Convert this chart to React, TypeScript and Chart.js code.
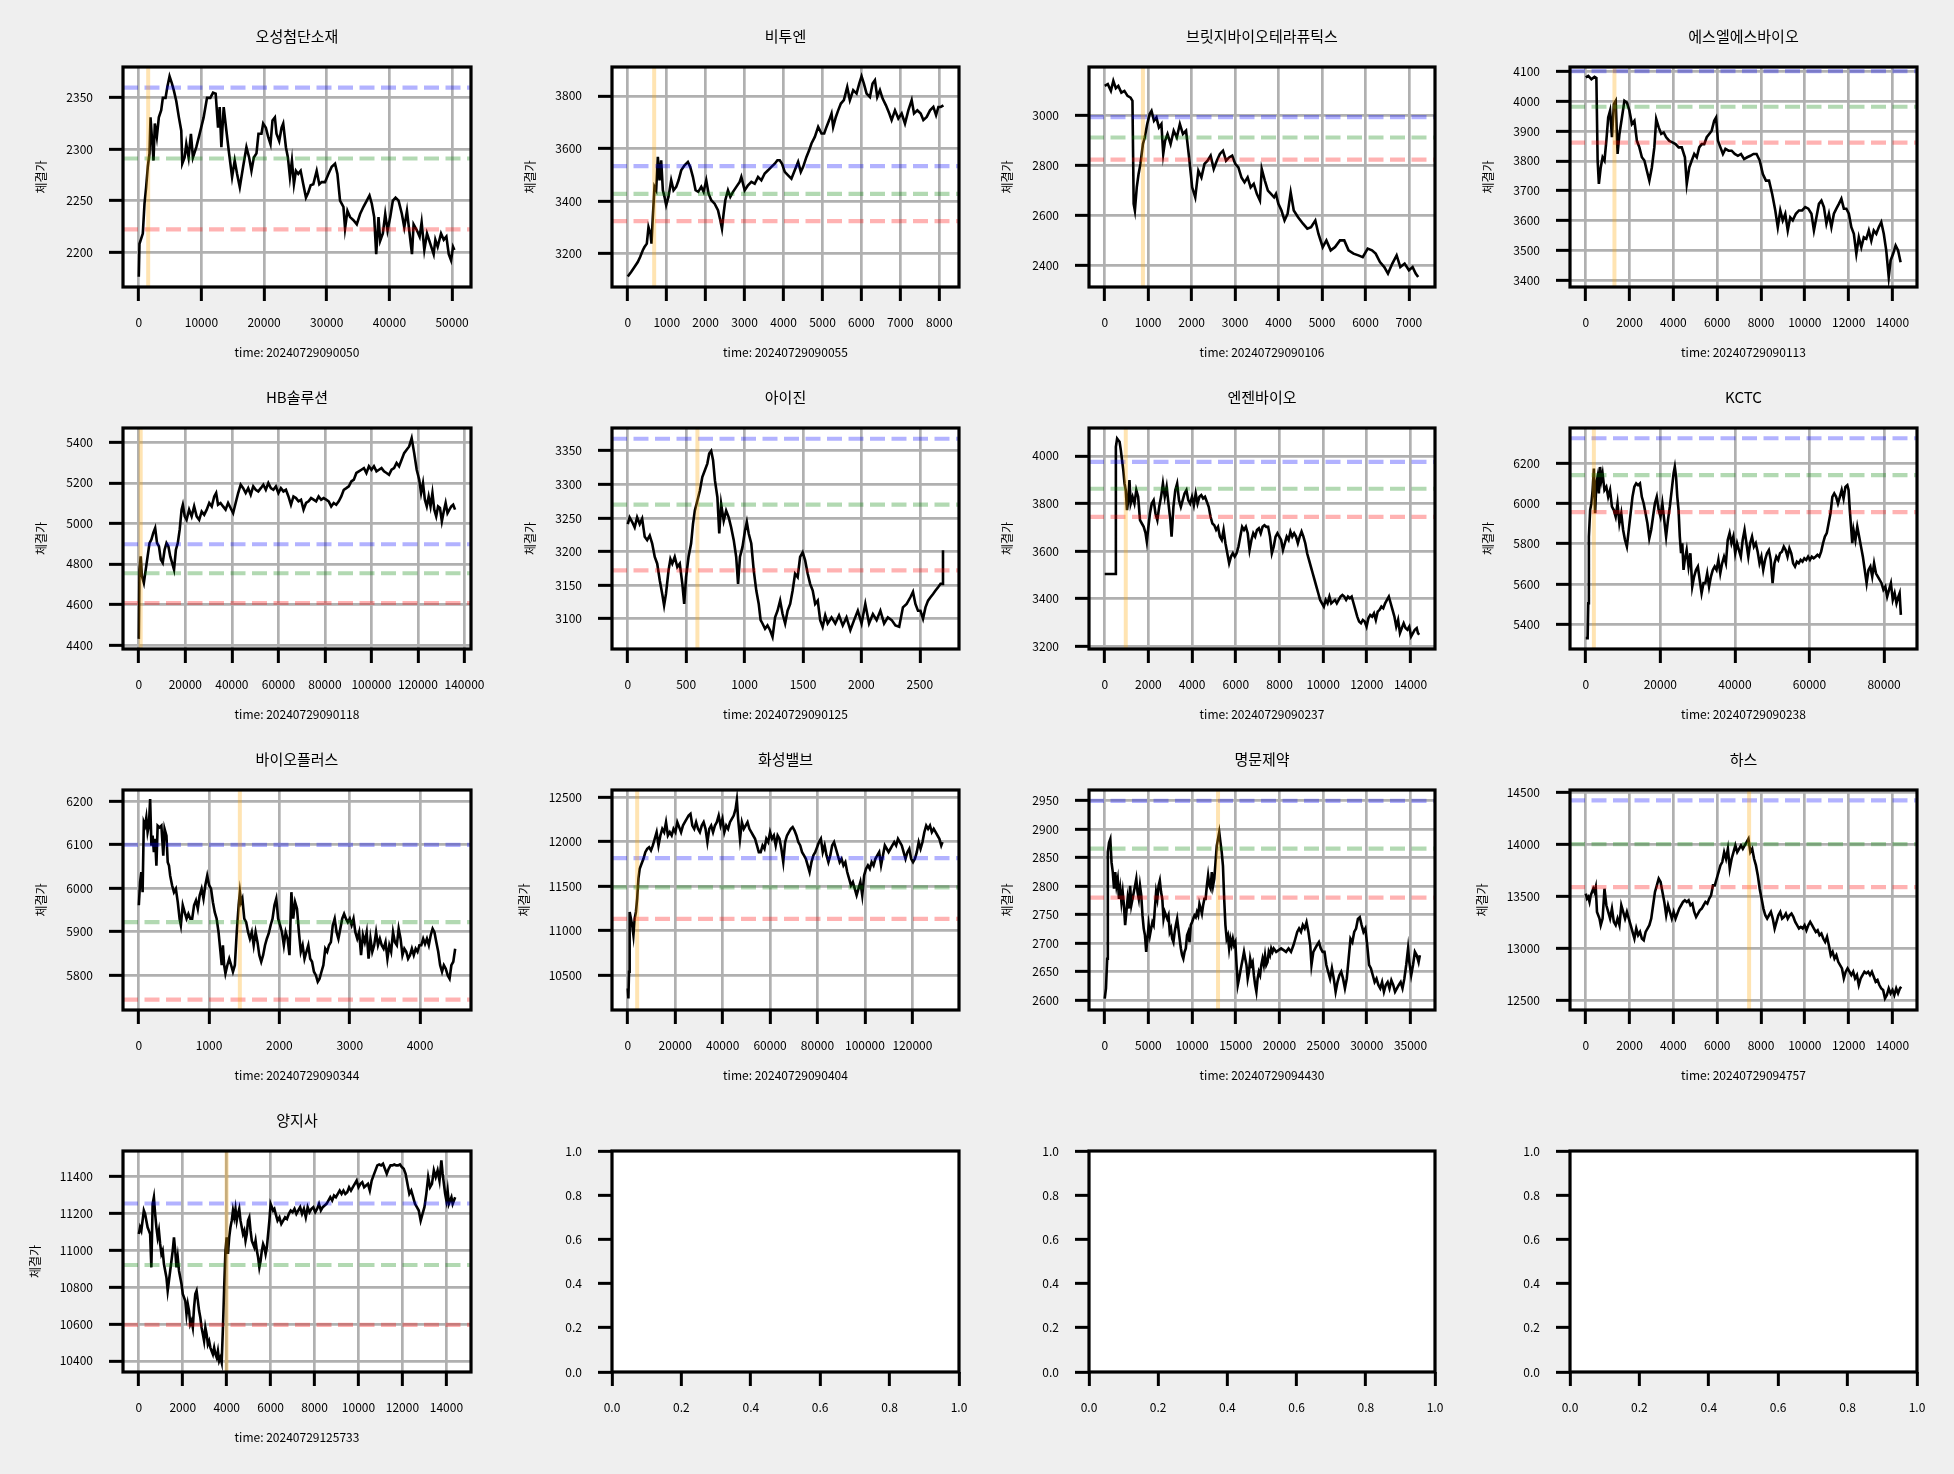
import { useEffect, useRef } from "react";
import Chart from "chart.js/auto";

type Pt = [number, number];

const FONT = "'Noto Sans CJK KR', 'Noto Sans', sans-serif";

const names = ["오성첨단소재", "비투엔", "브릿지바이오테라퓨틱스", "에스엘에스바이오", "HB솔루션", "아이진", "엔젠바이오", "KCTC", "바이오플러스", "화성밸브", "명문제약", "하스", "양지사"];
const stamps = ["20240729090050", "20240729090055", "20240729090106", "20240729090113", "20240729090118", "20240729090125", "20240729090237", "20240729090238", "20240729090344", "20240729090404", "20240729094430", "20240729094757", "20240729125733"];

// 체결가 series, [time index, price]
const osung: Pt[] = [[0,2176],[110,2208],[640,2218],[910,2247],[1170,2263],[1440,2283],[1710,2296],[1870,2331],[2130,2308],[2350,2289],[2560,2325],[2880,2312],[3200,2331],[3580,2338],[3840,2350],[4270,2350],[4540,2360],[4910,2371],[5280,2364],[5600,2357],[5980,2347],[6400,2331],[6780,2318],[6940,2286],[7310,2292],[7580,2305],[7950,2292],[8320,2315],[8640,2292],[9180,2302],[9710,2315],[10350,2331],[10890,2350],[11420,2350],[11850,2355],[12270,2354],[12650,2321],[12910,2341],[13180,2302],[13550,2341],[13980,2318],[14410,2296],[14890,2273],[15310,2289],[15690,2276],[16120,2263],[16650,2283],[17180,2302],[17610,2292],[17980,2279],[18360,2292],[18780,2296],[19100,2315],[19580,2315],[19850,2325],[20280,2321],[20650,2312],[21020,2305],[21340,2328],[21720,2331],[21980,2315],[22410,2308],[22790,2321],[23050,2325],[23480,2302],[23800,2292],[24120,2273],[24440,2289],[24760,2266],[25080,2279],[25450,2276],[25830,2279],[26250,2266],[26680,2253],[27050,2258],[27430,2265],[27850,2266],[28390,2279],[28810,2266],[29190,2268],[29720,2268],[30260,2276],[30790,2283],[31320,2286],[31700,2276],[32120,2250],[32660,2244],[32920,2223],[33300,2240],[33720,2234],[34260,2231],[34790,2227],[35320,2237],[35860,2244],[36390,2250],[36820,2255],[37190,2247],[37570,2234],[37890,2198],[38260,2234],[38530,2211],[38950,2218],[39330,2237],[39700,2221],[40130,2234],[40550,2250],[40980,2253],[41460,2250],[41990,2237],[42370,2224],[42800,2240],[43220,2218],[43600,2198],[43860,2227],[44400,2221],[44820,2215],[45140,2229],[45570,2202],[46000,2218],[46530,2208],[47060,2198],[47330,2212],[47700,2205],[48240,2218],[48670,2212],[49090,2215],[49470,2198],[49840,2192],[50160,2205],[50370,2202]];
const bituen: Pt[] = [[0,3113],[86,3130],[172,3149],[257,3168],[317,3187],[386,3213],[429,3225],[489,3238],[532,3301],[583,3276],[609,3238],[643,3339],[686,3454],[729,3441],[772,3568],[815,3479],[858,3555],[901,3441],[943,3416],[986,3384],[1046,3416],[1115,3479],[1175,3441],[1244,3454],[1304,3479],[1372,3517],[1458,3536],[1544,3549],[1604,3530],[1672,3492],[1741,3441],[1810,3435],[1887,3454],[1947,3435],[2015,3479],[2075,3428],[2144,3403],[2230,3390],[2316,3365],[2376,3327],[2419,3295],[2461,3352],[2504,3403],[2573,3441],[2633,3416],[2702,3435],[2787,3454],[2873,3473],[2916,3492],[3002,3441],[3087,3460],[3173,3473],[3259,3466],[3345,3492],[3430,3479],[3516,3505],[3602,3517],[3688,3530],[3774,3542],[3842,3555],[3902,3555],[3962,3542],[4031,3511],[4117,3498],[4202,3485],[4288,3517],[4374,3549],[4443,3511],[4503,3530],[4588,3568],[4657,3593],[4717,3619],[4803,3644],[4889,3682],[4974,3657],[5043,3657],[5103,3682],[5172,3708],[5232,3733],[5274,3682],[5343,3720],[5403,3745],[5472,3771],[5549,3784],[5635,3834],[5703,3784],[5789,3822],[5875,3809],[5943,3847],[6003,3875],[6063,3847],[6132,3809],[6218,3796],[6286,3847],[6346,3860],[6406,3796],[6475,3822],[6544,3790],[6629,3764],[6715,3733],[6775,3708],[6861,3745],[6947,3714],[7033,3733],[7118,3695],[7204,3745],[7290,3784],[7350,3733],[7436,3745],[7521,3733],[7590,3708],[7676,3720],[7762,3745],[7847,3758],[7916,3727],[7976,3758],[8036,3758],[8105,3764]];
const bridge: Pt[] = [[0,3120],[71,3127],[142,3100],[198,3140],[255,3111],[312,3120],[383,3093],[453,3100],[524,3080],[595,3073],[638,3060],[666,2647],[694,2620],[737,2713],[779,2767],[822,2807],[879,2887],[921,2913],[978,2967],[1034,3007],[1077,3020],[1134,2980],[1190,2993],[1247,2953],[1304,2967],[1346,2847],[1389,2900],[1445,2927],[1516,2887],[1587,2940],[1658,2913],[1729,2967],[1800,2927],[1871,2940],[1941,2833],[2012,2713],[2083,2673],[2154,2780],[2225,2753],[2296,2807],[2366,2820],[2437,2840],[2508,2787],[2579,2820],[2650,2847],[2721,2860],[2792,2820],[2862,2833],[2933,2840],[3004,2807],[3075,2793],[3146,2753],[3217,2733],[3288,2753],[3358,2713],[3429,2727],[3500,2687],[3571,2660],[3613,2787],[3684,2740],[3755,2700],[3826,2687],[3897,2673],[3940,2687],[3996,2647],[4067,2620],[4138,2580],[4209,2607],[4279,2693],[4350,2620],[4449,2593],[4563,2567],[4662,2547],[4747,2553],[4846,2580],[4917,2527],[5016,2473],[5101,2500],[5200,2460],[5300,2473],[5413,2500],[5512,2500],[5611,2460],[5725,2447],[5838,2440],[5937,2433],[6051,2467],[6150,2460],[6235,2447],[6334,2413],[6433,2393],[6518,2367],[6618,2407],[6717,2440],[6802,2393],[6901,2407],[7000,2380],[7085,2393],[7156,2367],[7213,2353]];
const slsBio: Pt[] = [[0,4079],[114,4084],[256,4073],[398,4081],[484,4077],[541,3801],[598,3723],[683,3778],[768,3812],[854,3801],[939,3867],[1024,3945],[1110,3968],[1195,3879],[1281,3990],[1366,4001],[1451,3823],[1537,3890],[1651,3945],[1764,4001],[1878,3995],[1992,3968],[2106,3923],[2220,3934],[2334,3867],[2447,3845],[2561,3812],[2675,3801],[2789,3767],[2902,3734],[3016,3778],[3130,3845],[3216,3940],[3329,3912],[3443,3890],[3557,3895],[3671,3879],[3813,3867],[3956,3862],[4098,3856],[4240,3845],[4382,3845],[4525,3812],[4610,3723],[4724,3778],[4838,3801],[4952,3823],[5066,3812],[5179,3845],[5293,3856],[5407,3856],[5521,3879],[5635,3890],[5748,3901],[5862,3934],[5948,3945],[6033,3867],[6147,3845],[6261,3823],[6375,3840],[6517,3834],[6659,3834],[6801,3823],[6944,3817],[7086,3823],[7228,3806],[7370,3812],[7513,3817],[7655,3823],[7797,3823],[7940,3801],[8082,3756],[8224,3734],[8366,3734],[8509,3689],[8651,3634],[8765,3578],[8879,3634],[8992,3601],[9106,3623],[9220,3567],[9334,3611],[9448,3601],[9590,3623],[9732,3634],[9875,3634],[10017,3645],[10159,3640],[10301,3623],[10415,3567],[10529,3611],[10643,3656],[10757,3667],[10871,3645],[10985,3590],[11098,3623],[11212,3578],[11326,3623],[11440,3640],[11554,3656],[11668,3673],[11781,3640],[11895,3640],[12009,3623],[12123,3578],[12237,3556],[12351,3489],[12464,3544],[12578,3511],[12692,3544],[12806,3539],[12920,3567],[13034,3533],[13147,3567],[13261,3556],[13375,3578],[13489,3595],[13603,3556],[13717,3500],[13830,3411],[13916,3467],[14030,3489],[14144,3517],[14257,3500],[14371,3461]];
const hbSol: Pt[] = [[0,4430],[270,4772],[811,4837],[1351,4739],[2162,4706],[2973,4772],[3784,4837],[4595,4903],[5405,4920],[6216,4953],[7027,4977],[7838,4903],[8649,4887],[9459,4821],[10270,4805],[11081,4870],[11892,4903],[12703,4887],[13514,4837],[14324,4805],[15135,4772],[15946,4870],[16757,4903],[17568,4969],[18378,5068],[18919,5092],[19730,5035],[20541,5018],[21622,5068],[22703,5035],[23784,5084],[24865,5035],[25946,5018],[27027,5059],[28108,5043],[29189,5068],[30270,5101],[31351,5084],[32432,5133],[33243,5150],[34054,5092],[35135,5101],[36216,5084],[37297,5068],[38378,5101],[39459,5076],[40541,5051],[41622,5101],[42703,5150],[43784,5191],[44865,5174],[45946,5150],[47027,5174],[48108,5142],[49189,5183],[50270,5166],[51351,5158],[52432,5174],[53514,5191],[54595,5166],[55676,5199],[56757,5174],[57838,5166],[58919,5183],[60000,5150],[61081,5174],[62162,5158],[63243,5166],[64324,5133],[65405,5092],[66486,5133],[67568,5125],[68649,5109],[69730,5117],[70811,5068],[71892,5101],[72973,5109],[74054,5125],[75135,5117],[76216,5109],[77297,5133],[78378,5117],[79459,5125],[80541,5117],[81622,5109],[82703,5084],[83784,5101],[84865,5092],[85946,5109],[87027,5133],[88108,5166],[89189,5174],[90270,5183],[91351,5207],[92432,5216],[93514,5249],[94595,5257],[95676,5265],[96757,5273],[97838,5249],[98919,5282],[100000,5265],[101081,5282],[102162,5257],[103243,5265],[104324,5273],[105405,5257],[106486,5249],[107568,5240],[108649,5265],[109730,5273],[110811,5298],[111892,5282],[112973,5314],[114054,5347],[115135,5364],[116216,5380],[117297,5421],[118378,5347],[119459,5265],[120541,5216],[121351,5150],[122162,5199],[122973,5117],[123784,5084],[124595,5133],[125405,5084],[126216,5150],[127027,5068],[127838,5035],[128649,5084],[129459,5076],[130270,5010],[131081,5059],[131892,5101],[132703,5051],[133514,5068],[134324,5084],[135135,5092],[135946,5068]];
const aijin: Pt[] = [[0,3241],[16,3251],[38,3244],[59,3236],[80,3251],[102,3241],[123,3249],[145,3222],[166,3217],[188,3224],[209,3212],[231,3192],[252,3182],[274,3157],[295,3137],[311,3120],[327,3137],[349,3172],[365,3189],[381,3182],[402,3192],[424,3177],[445,3182],[467,3152],[483,3122],[499,3162],[520,3192],[542,3212],[558,3241],[574,3261],[596,3276],[617,3291],[638,3311],[660,3321],[681,3331],[697,3346],[714,3350],[730,3336],[746,3306],[767,3281],[783,3227],[799,3271],[821,3246],[842,3261],[864,3251],[885,3236],[907,3217],[928,3192],[944,3152],[960,3192],[982,3207],[1003,3231],[1019,3244],[1035,3227],[1057,3212],[1078,3172],[1100,3142],[1121,3122],[1137,3098],[1153,3093],[1175,3085],[1196,3090],[1218,3083],[1239,3073],[1261,3102],[1282,3112],[1304,3127],[1325,3107],[1347,3093],[1368,3112],[1390,3122],[1411,3142],[1432,3167],[1454,3162],[1475,3192],[1497,3199],[1518,3187],[1540,3167],[1561,3152],[1583,3142],[1604,3122],[1626,3127],[1647,3098],[1668,3088],[1690,3105],[1711,3093],[1744,3102],[1776,3093],[1808,3105],[1840,3090],[1872,3102],[1905,3083],[1937,3098],[1969,3112],[2001,3093],[2033,3122],[2065,3093],[2098,3107],[2130,3098],[2162,3112],[2194,3093],[2226,3102],[2259,3098],[2291,3090],[2323,3088],[2355,3117],[2387,3122],[2419,3132],[2441,3140],[2462,3122],[2484,3112],[2505,3112],[2527,3100],[2548,3117],[2570,3127],[2591,3132],[2613,3137],[2634,3142],[2656,3147],[2677,3152],[2693,3152],[2698,3202]];
const engen: Pt[] = [[0,3504],[482,3504],[510,4038],[567,4073],[623,4066],[680,4059],[737,4024],[793,3982],[850,3940],[907,3884],[963,3856],[1020,3772],[1077,3814],[1133,3898],[1190,3800],[1275,3828],[1360,3800],[1445,3856],[1530,3828],[1615,3730],[1700,3716],[1785,3702],[1870,3675],[1927,3640],[1984,3689],[2069,3758],[2154,3800],[2239,3814],[2324,3758],[2409,3730],[2494,3786],[2579,3828],[2664,3884],[2749,3828],[2834,3870],[2919,3800],[3004,3730],[3060,3661],[3145,3786],[3230,3856],[3315,3884],[3400,3814],[3485,3786],[3570,3814],[3655,3842],[3740,3856],[3825,3814],[3910,3800],[3995,3828],[4080,3793],[4165,3842],[4250,3800],[4335,3828],[4420,3835],[4505,3821],[4590,3828],[4675,3807],[4760,3786],[4845,3744],[4930,3716],[5016,3709],[5101,3689],[5186,3702],[5271,3661],[5356,3647],[5441,3689],[5526,3633],[5611,3591],[5696,3549],[5781,3577],[5866,3591],[5951,3577],[6036,3591],[6121,3619],[6206,3661],[6291,3702],[6376,3689],[6461,3702],[6546,3675],[6631,3605],[6716,3647],[6801,3675],[6886,3661],[6971,3689],[7056,3696],[7141,3675],[7226,3702],[7311,3709],[7396,3702],[7481,3702],[7566,3661],[7651,3591],[7736,3619],[7821,3661],[7906,3675],[7991,3661],[8076,3647],[8161,3605],[8246,3633],[8331,3661],[8416,3647],[8501,3682],[8586,3661],[8671,3675],[8756,3661],[8841,3633],[8926,3661],[9011,3682],[9096,3661],[9181,3633],[9266,3591],[9351,3563],[9436,3535],[9521,3507],[9606,3479],[9691,3451],[9776,3423],[9861,3395],[9946,3381],[10031,3367],[10116,3395],[10201,3381],[10286,3409],[10371,3381],[10456,3388],[10541,3395],[10626,3381],[10711,3395],[10796,3409],[10881,3416],[10966,3409],[11051,3395],[11136,3409],[11221,3402],[11306,3409],[11391,3381],[11476,3353],[11561,3325],[11646,3304],[11731,3297],[11816,3311],[11901,3304],[11986,3283],[12071,3318],[12156,3332],[12241,3325],[12326,3339],[12411,3311],[12496,3346],[12581,3353],[12666,3367],[12751,3360],[12836,3381],[12921,3395],[13006,3409],[13091,3381],[13176,3353],[13261,3325],[13346,3283],[13431,3311],[13516,3256],[13601,3277],[13686,3297],[13771,3277],[13856,3270],[13941,3283],[14026,3242],[14111,3256],[14196,3270],[14282,3277],[14338,3256],[14395,3249]];
const kctc: Pt[] = [[0,5330],[501,5330],[668,5504],[835,5836],[1169,5968],[1503,6001],[1837,6068],[2171,6175],[2505,5952],[2839,6101],[3173,6134],[3507,6051],[3841,6183],[4175,6117],[4509,6150],[5010,6068],[5511,6084],[6012,6034],[6513,6068],[7014,5985],[7515,5968],[8016,5935],[8517,6001],[9018,5902],[9519,5952],[10020,5869],[10521,5819],[11022,5786],[11523,5869],[12024,5952],[12525,6034],[13026,6084],[13527,6101],[14028,6092],[14529,6101],[15030,6034],[15531,6001],[16032,5952],[16533,5902],[17034,5827],[17535,5869],[18036,5935],[18537,6001],[19038,6034],[19539,5968],[20040,5935],[20541,6001],[21042,5918],[21543,5836],[22044,5918],[22545,5985],[23046,6068],[23547,6150],[23881,6183],[24215,6134],[24549,6034],[24883,5968],[25217,5836],[25551,5753],[25885,5803],[26219,5670],[26553,5720],[27054,5769],[27555,5687],[28056,5753],[28557,5587],[29058,5637],[29559,5670],[30060,5687],[30561,5620],[31062,5554],[31563,5604],[32064,5604],[32565,5653],[33066,5587],[33567,5637],[34068,5670],[34569,5687],[35070,5670],[35571,5720],[36072,5653],[36573,5703],[37074,5736],[37575,5703],[38076,5819],[38577,5853],[39078,5803],[39579,5836],[40080,5753],[40581,5803],[41082,5769],[41583,5736],[42084,5819],[42585,5869],[43086,5803],[43587,5736],[44088,5803],[44589,5836],[45090,5786],[45591,5803],[46092,5761],[46593,5703],[47094,5736],[47595,5670],[48096,5720],[48597,5753],[49098,5769],[49599,5720],[50100,5604],[50601,5703],[51102,5736],[51603,5720],[52104,5753],[52605,5761],[53106,5786],[53607,5769],[54108,5736],[54609,5778],[55110,5753],[55611,5703],[56112,5687],[56613,5711],[57114,5703],[57615,5720],[58116,5711],[58617,5728],[59118,5720],[59619,5736],[60120,5720],[60621,5736],[61122,5728],[61623,5736],[62124,5745],[62625,5736],[63126,5761],[63627,5803],[64128,5836],[64629,5853],[65130,5902],[65631,5952],[66132,6034],[66633,6051],[67134,6034],[67635,6001],[68136,6034],[68637,6068],[69138,6026],[69639,6084],[70140,6092],[70474,6068],[70808,5968],[71142,5885],[71476,5803],[71810,5869],[72311,5819],[72812,5885],[73313,5836],[73814,5786],[74315,5736],[74816,5670],[75317,5604],[75818,5670],[76319,5687],[76820,5637],[77321,5703],[77822,5653],[78323,5637],[78824,5620],[79325,5604],[79826,5571],[80327,5587],[80828,5537],[81329,5571],[81830,5604],[82331,5521],[82832,5554],[83333,5504],[83834,5537],[84168,5554],[84502,5446]];
const bioPlus: Pt[] = [[0,5961],[18,6014],[36,6037],[54,5991],[71,6152],[89,6144],[107,6163],[125,6129],[143,6144],[161,6205],[179,6098],[196,6121],[214,6083],[232,6114],[250,6052],[268,6144],[295,6140],[321,6144],[348,6075],[366,6137],[393,6121],[411,6060],[429,6052],[446,6029],[473,6007],[500,5991],[527,5999],[554,5968],[580,5930],[598,5915],[625,5961],[652,5945],[679,5930],[705,5941],[732,5930],[759,5930],[786,5961],[813,5972],[839,5953],[866,5984],[893,5999],[920,5976],[946,6007],[973,6029],[1000,6007],[1027,5999],[1054,5968],[1080,5945],[1107,5930],[1134,5899],[1161,5854],[1179,5823],[1196,5869],[1214,5823],[1232,5804],[1259,5823],[1286,5838],[1313,5823],[1339,5808],[1366,5823],[1393,5899],[1420,5961],[1438,5991],[1455,5968],[1473,5976],[1500,5930],[1527,5922],[1554,5899],[1580,5884],[1607,5899],[1634,5869],[1661,5899],[1688,5876],[1714,5846],[1741,5831],[1768,5846],[1795,5869],[1821,5884],[1848,5896],[1875,5915],[1902,5930],[1929,5961],[1955,5976],[1982,5930],[2009,5915],[2036,5899],[2063,5869],[2089,5899],[2116,5884],[2143,5846],[2170,5991],[2196,5930],[2223,5968],[2250,5953],[2277,5899],[2304,5854],[2330,5869],[2357,5838],[2384,5854],[2411,5869],[2438,5838],[2464,5831],[2491,5808],[2518,5800],[2545,5785],[2571,5792],[2598,5808],[2625,5823],[2652,5861],[2679,5854],[2705,5869],[2732,5876],[2759,5915],[2786,5930],[2813,5899],[2839,5884],[2866,5907],[2893,5930],[2920,5941],[2946,5930],[2973,5922],[3000,5930],[3027,5915],[3054,5930],[3080,5899],[3107,5884],[3134,5899],[3161,5846],[3188,5892],[3214,5876],[3241,5899],[3268,5838],[3295,5884],[3321,5854],[3348,5869],[3375,5899],[3402,5869],[3429,5884],[3455,5869],[3482,5861],[3509,5876],[3536,5838],[3563,5869],[3589,5854],[3616,5899],[3643,5876],[3670,5869],[3696,5907],[3723,5884],[3750,5846],[3777,5861],[3804,5854],[3830,5838],[3857,5846],[3884,5861],[3911,5846],[3938,5861],[3964,5854],[3991,5869],[4018,5869],[4045,5884],[4071,5872],[4098,5884],[4125,5869],[4152,5892],[4179,5907],[4205,5899],[4232,5876],[4259,5854],[4286,5823],[4313,5808],[4339,5823],[4366,5815],[4393,5800],[4420,5792],[4446,5823],[4473,5831],[4500,5861]];
const hwasung: Pt[] = [[0,10350],[264,10238],[529,10537],[793,11210],[1322,11136],[1850,11061],[2379,10949],[2908,11136],[3436,11210],[3965,11360],[4494,11584],[5022,11696],[5816,11752],[6609,11808],[7402,11883],[8195,11921],[8988,11939],[9781,11902],[10574,11958],[11367,12033],[12160,12107],[12953,11958],[13746,12070],[14539,12145],[15332,12107],[16125,12220],[16918,12070],[17711,12107],[18504,12070],[19297,12145],[20090,12107],[20883,12220],[21676,12164],[22469,12107],[23262,12182],[24055,12220],[24848,12257],[25641,12294],[26434,12313],[27227,12182],[28020,12145],[28813,12220],[29606,12145],[30399,12107],[31192,12182],[31985,12220],[32778,12145],[33571,11996],[34364,12145],[35157,12182],[35950,12107],[36743,12182],[37536,12220],[38329,12294],[39122,12182],[39915,12257],[40708,12107],[41501,12182],[42294,12145],[43087,12220],[43880,12257],[44673,12294],[45466,12369],[45995,12470],[46524,12257],[47317,12033],[48110,12220],[48903,12145],[49696,12182],[50489,12220],[51282,12145],[52075,12107],[52868,12070],[53661,12033],[54454,11958],[55247,11883],[56040,11883],[56833,11958],[57626,11921],[58419,12033],[59212,11996],[60005,12107],[60798,12033],[61591,12070],[62384,11958],[63177,12070],[63970,12033],[64763,11921],[65556,11771],[66349,11996],[67142,12070],[67935,12107],[68728,12145],[69521,12164],[70314,12126],[71107,12070],[71900,11996],[72693,11958],[73486,11883],[74279,11846],[75072,11808],[75865,11734],[76658,11659],[77451,11771],[78244,11846],[79037,11883],[79830,11939],[80623,11996],[81416,12033],[82209,11883],[83002,11958],[83795,11846],[84588,11771],[85381,11846],[86174,11958],[86967,11996],[87760,11921],[88553,11846],[89346,11771],[90139,11808],[90932,11734],[91725,11771],[92518,11659],[93311,11584],[94104,11509],[94897,11546],[95690,11472],[96483,11397],[97276,11472],[98069,11546],[98862,11397],[99655,11621],[100448,11696],[101241,11734],[102034,11696],[102827,11771],[103620,11734],[104413,11808],[105206,11846],[105999,11883],[106792,11734],[107585,11846],[108378,11958],[109171,11921],[109964,11883],[110757,11921],[111550,11958],[112343,11996],[113136,11958],[113929,12033],[114722,11996],[115515,11958],[116308,11883],[117101,11808],[117894,11883],[118687,11921],[119480,11808],[120273,11771],[121066,11808],[121859,11883],[122652,11996],[123445,11921],[124238,11996],[125031,12107],[125824,12182],[126617,12145],[127410,12182],[128203,12107],[128996,12145],[129789,12107],[130582,12070],[131375,12033],[132168,11958],[132697,11996]];
const myungmoon: Pt[] = [[0,2603],[142,2621],[283,2673],[354,2860],[496,2877],[638,2883],[779,2842],[921,2825],[1063,2796],[1204,2825],[1346,2801],[1488,2813],[1630,2778],[1771,2796],[1913,2772],[2055,2790],[2196,2767],[2338,2732],[2480,2755],[2621,2778],[2763,2761],[2905,2801],[3046,2767],[3188,2778],[3330,2790],[3472,2801],[3613,2813],[3755,2790],[3897,2778],[4038,2801],[4180,2784],[4322,2749],[4463,2726],[4605,2714],[4747,2685],[4888,2708],[5030,2732],[5172,2714],[5313,2726],[5455,2737],[5597,2732],[5738,2761],[5880,2790],[6022,2778],[6163,2801],[6305,2810],[6447,2790],[6588,2778],[6730,2743],[6872,2755],[7013,2749],[7155,2743],[7297,2749],[7439,2720],[7580,2726],[7722,2708],[7864,2702],[8005,2720],[8147,2732],[8289,2743],[8430,2726],[8572,2708],[8714,2691],[8855,2679],[8997,2673],[9139,2685],[9280,2691],[9422,2714],[9564,2720],[9705,2702],[9847,2732],[9989,2737],[10131,2743],[10272,2749],[10414,2746],[10556,2755],[10697,2749],[10839,2769],[10981,2761],[11122,2752],[11264,2767],[11406,2778],[11547,2778],[11689,2801],[11831,2819],[11972,2801],[12114,2796],[12256,2825],[12397,2801],[12539,2813],[12681,2842],[12822,2871],[12964,2883],[13106,2895],[13247,2877],[13389,2860],[13531,2836],[13672,2778],[13814,2732],[13956,2708],[14097,2714],[14239,2691],[14381,2708],[14522,2697],[14664,2708],[14806,2697],[14947,2702],[15089,2662],[15231,2627],[15372,2638],[15514,2650],[15656,2662],[15797,2673],[15939,2685],[16081,2673],[16222,2662],[16364,2638],[16506,2650],[16647,2673],[16789,2662],[16931,2667],[17072,2644],[17214,2627],[17356,2615],[17497,2638],[17639,2650],[17781,2644],[17922,2662],[18064,2673],[18206,2662],[18347,2679],[18489,2662],[18631,2667],[18772,2685],[18914,2679],[19056,2691],[19197,2685],[19339,2691],[19622,2685],[19905,2688],[20189,2691],[20472,2688],[20756,2685],[21039,2691],[21322,2685],[21606,2697],[21818,2708],[22031,2720],[22243,2726],[22460,2720],[22672,2732],[22885,2726],[23097,2737],[23310,2720],[23522,2697],[23664,2662],[23877,2685],[24089,2691],[24302,2697],[24514,2702],[24727,2691],[24940,2685],[25152,2685],[25365,2662],[25577,2650],[25790,2638],[26003,2656],[26215,2638],[26428,2615],[26640,2632],[26853,2644],[27065,2650],[27278,2638],[27491,2621],[27703,2638],[27916,2673],[28128,2708],[28341,2702],[28553,2720],[28766,2726],[28979,2743],[29191,2746],[29404,2732],[29616,2720],[29829,2726],[30042,2697],[30254,2662],[30467,2656],[30679,2644],[30892,2632],[31104,2638],[31317,2627],[31530,2621],[31742,2632],[31955,2615],[32167,2627],[32380,2632],[32592,2621],[32805,2635],[33018,2627],[33230,2615],[33443,2621],[33655,2627],[33868,2632],[34081,2621],[34293,2638],[34506,2662],[34718,2691],[34860,2667],[35073,2644],[35285,2662],[35498,2685],[35710,2679],[35923,2667],[36065,2679]];
const hass: Pt[] = [[0,13526],[57,13478],[114,13494],[171,13446],[228,13510],[285,13542],[341,13573],[398,13542],[455,13589],[512,13350],[569,13318],[626,13286],[683,13222],[768,13286],[854,13573],[939,13414],[1024,13350],[1110,13286],[1195,13382],[1281,13254],[1366,13222],[1451,13286],[1537,13222],[1622,13414],[1708,13350],[1793,13286],[1878,13350],[1964,13286],[2049,13222],[2134,13158],[2220,13094],[2305,13190],[2390,13126],[2476,13158],[2561,13094],[2646,13078],[2732,13158],[2817,13190],[2903,13222],[2988,13286],[3073,13414],[3159,13542],[3244,13605],[3329,13669],[3415,13637],[3500,13542],[3585,13446],[3671,13318],[3756,13414],[3841,13350],[3927,13286],[4012,13350],[4098,13286],[4183,13334],[4268,13382],[4354,13414],[4439,13446],[4524,13462],[4610,13446],[4695,13462],[4780,13414],[4866,13430],[4951,13350],[5036,13302],[5122,13334],[5207,13366],[5292,13382],[5378,13414],[5463,13446],[5549,13430],[5634,13478],[5719,13510],[5805,13605],[5890,13605],[5975,13669],[6061,13733],[6146,13797],[6231,13829],[6317,13925],[6402,13861],[6487,13957],[6573,13765],[6658,13861],[6744,13925],[6829,13989],[6914,13925],[7000,13957],[7085,13989],[7170,13957],[7256,13989],[7341,14021],[7426,14053],[7512,13925],[7597,13957],[7683,13861],[7768,13797],[7853,13701],[7939,13573],[8024,13478],[8109,13382],[8195,13318],[8280,13286],[8366,13318],[8451,13350],[8536,13286],[8622,13190],[8707,13254],[8792,13318],[8878,13350],[8963,13286],[9049,13302],[9134,13334],[9219,13286],[9305,13318],[9390,13334],[9475,13302],[9561,13254],[9646,13222],[9732,13190],[9817,13206],[9902,13190],[9988,13222],[10073,13174],[10158,13222],[10244,13254],[10329,13222],[10415,13190],[10500,13158],[10585,13174],[10671,13126],[10756,13142],[10841,13094],[10927,13062],[11012,13110],[11097,13030],[11183,12934],[11268,12966],[11354,12902],[11439,12934],[11524,12870],[11610,12839],[11695,12807],[11780,12711],[11866,12775],[11951,12807],[12037,12775],[12122,12743],[12207,12775],[12293,12711],[12378,12743],[12463,12647],[12549,12711],[12634,12743],[12719,12775],[12805,12759],[12890,12775],[12976,12743],[13061,12775],[13146,12727],[13232,12679],[13317,12695],[13402,12647],[13488,12615],[13573,12599],[13659,12519],[13744,12551],[13829,12615],[13915,12567],[14000,12599],[14085,12551],[14171,12615],[14256,12567],[14341,12615],[14398,12631]];
const yangji: Pt[] = [[0,11087],[57,11123],[114,11105],[171,11159],[229,11214],[286,11196],[343,11159],[400,11123],[457,11105],[514,11087],[571,10906],[629,11250],[686,11286],[743,11196],[800,11123],[857,11069],[914,11105],[971,11033],[1029,10979],[1086,10997],[1143,10924],[1200,10888],[1257,10852],[1314,10780],[1371,10834],[1429,10888],[1486,10942],[1543,10997],[1600,11069],[1657,10997],[1714,10906],[1771,10961],[1829,10888],[1886,10852],[1943,10816],[2000,10762],[2057,10744],[2114,10726],[2171,10653],[2229,10708],[2286,10671],[2343,10599],[2400,10617],[2457,10581],[2514,10689],[2571,10762],[2629,10780],[2686,10726],[2743,10671],[2800,10635],[2857,10581],[2914,10545],[2971,10508],[3029,10581],[3086,10545],[3143,10490],[3200,10508],[3257,10472],[3314,10454],[3371,10436],[3429,10472],[3486,10436],[3543,10418],[3600,10454],[3657,10400],[3714,10418],[3771,10391],[3829,10581],[3886,10798],[3943,10997],[4000,11069],[4057,10979],[4114,11069],[4171,11123],[4229,11159],[4286,11214],[4343,11177],[4400,11223],[4457,11159],[4514,11196],[4571,11223],[4629,11159],[4686,11123],[4743,11087],[4800,11105],[4857,11051],[4914,11087],[4971,11159],[5029,11177],[5086,11105],[5143,11051],[5200,11033],[5257,11015],[5314,11051],[5371,10997],[5429,10961],[5486,10906],[5543,10942],[5600,10997],[5657,11033],[5714,11015],[5771,10979],[5829,11015],[5886,11087],[5943,11159],[6000,11250],[6057,11232],[6114,11214],[6171,11223],[6229,11196],[6314,11159],[6400,11177],[6486,11141],[6571,11159],[6657,11177],[6743,11168],[6829,11196],[6914,11214],[7000,11205],[7086,11223],[7171,11196],[7257,11214],[7343,11232],[7429,11196],[7514,11223],[7600,11177],[7686,11232],[7771,11205],[7857,11223],[7943,11232],[8029,11205],[8114,11223],[8200,11250],[8286,11214],[8371,11232],[8457,11241],[8543,11250],[8629,11268],[8714,11286],[8800,11268],[8886,11295],[8971,11286],[9057,11304],[9143,11322],[9229,11304],[9314,11322],[9400,11304],[9486,11313],[9571,11340],[9657,11322],[9743,11340],[9829,11358],[9914,11376],[10000,11340],[10086,11358],[10171,11367],[10257,11340],[10343,11349],[10429,11358],[10514,11322],[10600,11376],[10686,11404],[10771,11431],[10857,11458],[10943,11463],[11029,11458],[11114,11467],[11200,11440],[11286,11413],[11371,11440],[11457,11458],[11543,11458],[11629,11463],[11714,11458],[11800,11458],[11886,11463],[11971,11449],[12057,11440],[12143,11413],[12229,11358],[12314,11304],[12400,11322],[12486,11286],[12571,11250],[12657,11232],[12743,11214],[12829,11159],[12914,11196],[13000,11232],[13086,11304],[13171,11395],[13257,11340],[13343,11358],[13429,11431],[13514,11395],[13600,11431],[13686,11376],[13771,11485],[13829,11413],[13886,11358],[13943,11304],[14000,11268],[14057,11322],[14114,11250],[14171,11268],[14229,11286],[14286,11250],[14343,11268],[14400,11286]];

const series = [osung, bituen, bridge, slsBio, hbSol, aijin, engen, kctc, bioPlus, hwasung, myungmoon, hass, yangji];

// horizontal reference levels: blue, green, red
const levels = [[2360, 2291, 2222], [3533, 3427, 3324], [2995, 2913, 2824], [4100, 3981, 3861], [4897, 4754, 4607], [3368, 3270, 3172], [3975, 3862, 3744], [6326, 6142, 5958], [6100, 5922, 5744], [11816, 11487, 11132], [2950, 2866, 2780], [14423, 14002, 13589], [11252, 10919, 10595]];
// orange vertical marker (time index)
const marks = [1500, 678, 879, 1309, 800, 596, 963, 2170, 1437, 3965, 12968, 7456, 3995];

const xTicks = [
  [0, 10000, 20000, 30000, 40000, 50000],
  [0, 1000, 2000, 3000, 4000, 5000, 6000, 7000, 8000],
  [0, 1000, 2000, 3000, 4000, 5000, 6000, 7000],
  [0, 2000, 4000, 6000, 8000, 10000, 12000, 14000],
  [0, 20000, 40000, 60000, 80000, 100000, 120000, 140000],
  [0, 500, 1000, 1500, 2000, 2500],
  [0, 2000, 4000, 6000, 8000, 10000, 12000, 14000],
  [0, 20000, 40000, 60000, 80000],
  [0, 1000, 2000, 3000, 4000],
  [0, 20000, 40000, 60000, 80000, 100000, 120000],
  [0, 5000, 10000, 15000, 20000, 25000, 30000, 35000],
  [0, 2000, 4000, 6000, 8000, 10000, 12000, 14000],
  [0, 2000, 4000, 6000, 8000, 10000, 12000, 14000],
];
const yTicks = [
  [2200, 2250, 2300, 2350],
  [3200, 3400, 3600, 3800],
  [2400, 2600, 2800, 3000],
  [3400, 3500, 3600, 3700, 3800, 3900, 4000, 4100],
  [4400, 4600, 4800, 5000, 5200, 5400],
  [3100, 3150, 3200, 3250, 3300, 3350],
  [3200, 3400, 3600, 3800, 4000],
  [5400, 5600, 5800, 6000, 6200],
  [5800, 5900, 6000, 6100, 6200],
  [10500, 11000, 11500, 12000, 12500],
  [2600, 2650, 2700, 2750, 2800, 2850, 2900, 2950],
  [12500, 13000, 13500, 14000, 14500],
  [10400, 10600, 10800, 11000, 11200, 11400],
];
const xLims = [[-2520, 53020], [-405, 8505], [-362, 7600], [-720, 15120], [-6800, 142800], [-135, 2835], [-720, 15120], [-4230, 88830], [-225, 4725], [-6650, 139650], [-1800, 37800], [-720, 15120], [-720, 15120]];
const yLims = [[2166, 2380], [3073, 3910], [2313, 3196], [3378, 4114], [4380, 5471], [3055, 3384], [3189, 4117], [5276, 6377], [5720, 6226], [10107, 12582], [2583, 2969], [12407, 14522], [10340, 11536]];
const unitTicks = [0, 0.2, 0.4, 0.6, 0.8, 1.0];

// subplot boxes in page pixels
const colL = [123, 612, 1089, 1570];
const colW = [348, 347, 346, 347];
const rowT = [67, 428, 790, 1151];
const rowH = [220, 221, 220, 221];
const PAD_L = 110, PAD_T = 50, PAD_R = 40, PAD_B = 85;

const frame = {
  id: "frame",
  beforeDraw(chart: any) {
    const { ctx, chartArea: a } = chart;
    ctx.save();
    ctx.fillStyle = "#ffffff";
    ctx.fillRect(a.left, a.top, a.right - a.left, a.bottom - a.top);
    ctx.restore();
  },
  afterDraw(chart: any) {
    const { ctx, chartArea: a } = chart;
    ctx.save();
    ctx.strokeStyle = "#000";
    ctx.lineWidth = 3.2;
    ctx.strokeRect(a.left, a.top, a.right - a.left, a.bottom - a.top);
    ctx.restore();
  },
};

const tickFont = { family: FONT, size: 12 };

function axis(lims: number[], ticks: number[], fmt: (v: number) => string, grid: boolean, fit: (s: any) => void, pad: number, title?: any) {
  return {
    type: "linear" as const,
    min: lims[0],
    max: lims[1],
    afterBuildTicks: (s: any) => { s.ticks = ticks.map((v) => ({ value: v })); },
    afterFit: fit,
    border: { display: false },
    grid: { drawOnChartArea: grid, color: "#b0b0b0", lineWidth: 2.7, tickColor: "#000", tickWidth: 3, tickLength: 14 },
    ticks: { font: tickFont, color: "#000", padding: pad, autoSkip: false, maxRotation: 0, minRotation: 0, callback: (v: any) => fmt(Number(v)) },
    title: title || { display: false },
  };
}

function Panel({ idx, row, col }: { idx: number; row: number; col: number }) {
  const ref = useRef<HTMLCanvasElement | null>(null);
  const w = PAD_L + colW[col] + PAD_R;
  const h = PAD_T + rowH[row] + PAD_B;

  useEffect(() => {
    if (!ref.current) return;
    let chart: Chart;
    if (idx < 0) {
      chart = new Chart(ref.current, {
        type: "line",
        data: { datasets: [] },
        options: {
          animation: false,
          responsive: false,
          layout: { padding: { left: 0, right: PAD_R, top: PAD_T, bottom: 0 } },
          plugins: { legend: { display: false }, tooltip: { enabled: false } },
          scales: {
            x: axis([0, 1], unitTicks, (v) => v.toFixed(1), false, (s) => { s.height = PAD_B; }, 14),
            y: axis([0, 1], unitTicks, (v) => v.toFixed(1), false, (s) => { s.width = PAD_L; }, 16),
          },
        } as any,
        plugins: [frame],
      });
    } else {
      const xl = xLims[idx], yl = yLims[idx];
      const wide = yTicks[idx][0] >= 10000;
      const hColors = ["rgba(0,0,255,0.3)", "rgba(0,128,0,0.3)", "rgba(255,0,0,0.3)"];
      chart = new Chart(ref.current, {
        type: "line",
        data: {
          datasets: [
            { data: series[idx].map(([x, y]) => ({ x, y })), borderColor: "#000", borderWidth: 2.6, pointRadius: 0, tension: 0, order: 3 },
            ...levels[idx].map((v, k) => ({
              data: [{ x: xl[0], y: v }, { x: xl[1], y: v }],
              borderColor: hColors[k], borderWidth: 4.2, borderDash: [15, 6.5], pointRadius: 0, order: 2,
            })),
            { data: [{ x: marks[idx], y: yl[0] }, { x: marks[idx], y: yl[1] }], borderColor: "rgba(255,165,0,0.3)", borderWidth: 4, pointRadius: 0, order: 1 },
          ],
        },
        options: {
          animation: false,
          responsive: false,
          layout: { padding: { left: 0, right: PAD_R, top: 0, bottom: 0 } },
          plugins: {
            legend: { display: false },
            tooltip: { enabled: false },
            title: { display: true, fullSize: false, text: names[idx], color: "#000", font: { family: FONT, size: 15, weight: "normal" }, padding: { top: 10, bottom: 22 } },
          },
          scales: {
            x: axis(xl, xTicks[idx], (v) => String(v), true, (s) => { s.height = PAD_B; }, 14, {
              display: true, text: "time: " + stamps[idx], color: "#000", font: tickFont, padding: { top: 0, bottom: 12.8 },
            }),
            y: axis(yl, yTicks[idx], (v) => String(v), true, (s) => { s.width = PAD_L; }, 16, {
              display: true, text: "체결가", color: "#000", font: tickFont, padding: { top: wide ? 14.8 : 20.8, bottom: 0 },
            }),
          },
        } as any,
        plugins: [frame],
      });
    }
    return () => { chart.destroy(); };
  }, [idx]);

  return (
    <canvas
      ref={ref}
      width={w}
      height={h}
      style={{ position: "absolute", left: colL[col] - PAD_L, top: rowT[row] - PAD_T, width: w, height: h }}
    />
  );
}

export default function App() {
  useEffect(() => {
    document.body.style.margin = "0";
    document.body.style.background = "#efefef";
  }, []);
  const cells = [];
  for (let i = 0; i < 16; i++) {
    const row = Math.floor(i / 4), col = i % 4;
    cells.push(<Panel key={i} idx={i < series.length ? i : -1} row={row} col={col} />);
  }
  return (
    <div style={{ position: "absolute", left: 0, top: 0, width: 1954, height: 1474, background: "#efefef", overflow: "hidden" }}>
      {cells}
    </div>
  );
}
